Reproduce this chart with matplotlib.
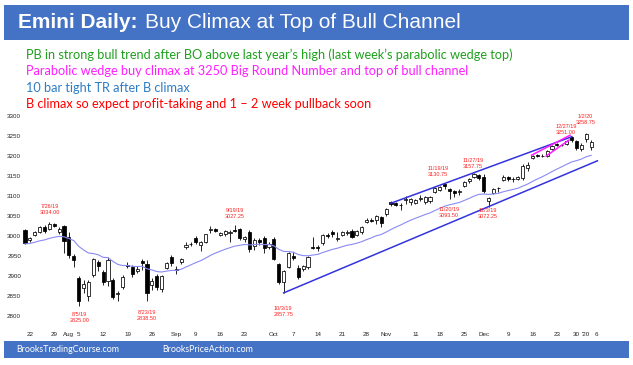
"""Emini daily chart: buy climax at top of bull channel"""
import numpy as np
import pandas as pd
import matplotlib
matplotlib.use("Agg")
import matplotlib.pyplot as plt
from matplotlib.patches import Rectangle

# trading days Jul 19 2019 - Jan 3 2020
holidays = ["2019-09-02", "2019-11-28", "2019-12-25", "2020-01-01"]
dates = pd.bdate_range("2019-07-19", "2020-01-03", freq="C", holidays=holidays)

opens = [3015, 2990, 3003, 3010, 3022, 3018, 3030, 3010, 3025, 2998,
         2950, 2895, 2870, 2850, 2902, 2935, 2910, 2888, 2890, 2856,
         2872, 2928, 2922, 2912, 2937, 2930, 2878, 2900, 2867, 2920,
         2947, 2918, 2935, 2972, 2980, 2995, 2977, 2985, 3015, 3017,
         3002, 3005, 3008, 3015, 3017, 2992, 3010, 2975, 2990, 2995,
         2972, 2992, 2930, 2885, 2922, 2950, 2920, 2918, 2922, 2972,
         2972, 2982, 3002, 3010, 2992, 3002, 3008, 3013, 3003, 3010,
         3035, 3040, 3040, 3047, 3055, 3085, 3082, 3078, 3090, 3085,
         3083, 3092, 3085, 3088, 3110, 3115, 3130, 3118, 3112, 3110,
         3125, 3137, 3148, 3153, 3148, 3088, 3108, 3121, 3140, 3147,
         3142, 3142, 3145, 3170, 3195, 3203, 3200, 3200, 3218, 3230,
         3228, 3230, 3248, 3238, 3218, 3243, 3222]
highs = [3018, 2998, 3013, 3025, 3027, 3034, 3032, 3022, 3028, 3010,
         2955, 2900, 2890, 2890, 2945, 2940, 2915, 2948, 2895, 2862,
         2902, 2935, 2928, 2925, 2942, 2940, 2895, 2905, 2903, 2935,
         2952, 2925, 2945, 2985, 2985, 3000, 2988, 3005, 3025, 3020,
         3010, 3015, 3015, 3027.25, 3020, 3000, 3015, 2995, 2995, 3000,
         2985, 2998, 2932, 2915, 2960, 2960, 2928, 2928, 2950, 2997,
         2978, 3005, 3008, 3015, 3010, 3012, 3015, 3017, 3015, 3025,
         3045, 3045, 3053, 3050, 3070, 3087, 3085, 3082, 3100, 3095,
         3093, 3102, 3100, 3100, 3122, 3125, 3130.75, 3120, 3115, 3117,
         3138, 3145, 3157.75, 3155, 3155, 3098, 3120, 3122, 3152, 3150,
         3148, 3150, 3180, 3185, 3203, 3205, 3205, 3215, 3228, 3232,
         3231, 3240, 3251, 3240, 3232, 3258.75, 3240]
lows = [2980, 2985, 3000, 3007, 3008, 3015, 3022, 3005, 2958, 2945,
        2922, 2825, 2858, 2838, 2898, 2912, 2878, 2875, 2842, 2838,
        2868, 2920, 2898, 2908, 2915, 2838.5, 2865, 2865, 2860, 2918,
        2925, 2905, 2930, 2968, 2975, 2980, 2962, 2982, 3008, 3010,
        3000, 3000, 2985, 3010, 2990, 2985, 2960, 2965, 2978, 2958,
        2968, 2940, 2880, 2857.75, 2920, 2940, 2893, 2912, 2918, 2968,
        2962, 2978, 2995, 2998, 2988, 3000, 3002, 2995, 3000, 3005,
        3032, 3035, 3030, 3023, 3050, 3075, 3075, 3065, 3080, 3078,
        3080, 3088, 3080, 3082, 3108, 3112, 3118, 3093.5, 3098, 3102,
        3122, 3133, 3146, 3140, 3107, 3072.25, 3105, 3110, 3138, 3138,
        3135, 3140, 3140, 3162, 3192, 3198, 3197, 3198, 3215, 3225,
        3224, 3228, 3235, 3215, 3212, 3235, 3215]
closes = [2982, 2994, 3011, 3022, 3012, 3030, 3026, 3018, 2988, 2952,
          2940, 2838, 2880, 2885, 2942, 2925, 2885, 2940, 2848, 2858,
          2898, 2926, 2905, 2918, 2932, 2858, 2888, 2872, 2900, 2932,
          2932, 2914, 2943, 2977, 2980, 2985, 2985, 3004, 3017, 3012,
          3007, 3012, 3010, 3012, 2995, 2998, 2968, 2990, 2985, 2970,
          2980, 2943, 2885, 2912, 2957, 2945, 2898, 2925, 2947, 2970,
          2970, 3002, 3000, 3005, 2996, 3010, 3011, 2998, 3012, 3022,
          3040, 3038, 3050, 3033, 3067, 3080, 3078, 3078, 3092, 3093,
          3090, 3094, 3098, 3097, 3120, 3122, 3124, 3112, 3108, 3112,
          3136, 3143, 3155, 3145, 3113, 3095, 3117, 3120, 3148, 3142,
          3143, 3148, 3175, 3178, 3201, 3200, 3201, 3213, 3225, 3227,
          3228, 3238, 3240, 3220, 3228, 3255, 3235]
ema_start = 2980  # 20 EMA value the day before the first bar

# x tick positions (trading-day index) and labels
tick_idx = [1, 6, 9, 11, 16, 21, 26, 31, 35, 40, 45, 51, 55, 60, 65, 70,
            74, 80, 85, 90, 94, 99, 104, 109, 113, 115, 117]
tick_labels = ["22", "29", "Aug", "5", "12", "19", "26", "Sep", "9", "16", "23",
               "Oct", "7", "14", "21", "28", "Nov", "11", "18", "25", "Dec",
               "9", "16", "23", "30", "'20", "6"]

# swing high / low labels
ann_dates = ["7/26/19", "8/5/19", "8/23/19", "9/19/19", "10/3/19", "11/19/19",
             "11/20/19", "11/27/19", "12/3/19", "12/27/19", "1/2/20"]
ann_values = ["3034.00", "2825.00", "2838.50", "3027.25", "2857.75", "3130.75",
              "3093.50", "3157.75", "3072.25", "3251.00", "3258.75"]

# trend lines drawn on the chart (index, price)
upper_x, upper_y = [75, 112], [3082, 3248]
lower_x, lower_y = [53, 117.3], [2857.75, 3188]
wedge1_x, wedge1_y = [103.8, 111.7], [3202, 3252]
wedge2_x, wedge2_y = [106.8, 111.5], [3200, 3240]

comments = [
    ("PB in strong bull trend after BO above last year\u2019s high (last week\u2019s parabolic wedge top)", "#1fa01f"),
    ("Parabolic wedge buy climax at 3250 Big Round Number and top of bull channel", "#ff1fff"),
    ("10 bar tight TR after B climax", "#2e7dc4"),
    ("B climax so expect profit-taking and 1 \u2013 2 week pullback soon", "#ff0000"),
]

W, H = 633, 365
fig = plt.figure(figsize=(W / 100, H / 100), dpi=100)
fig.patch.set_facecolor("white")

BAR_BLUE = "#4472c4"
# header / footer bars
fig.patches.append(Rectangle((4 / W, 1 - 40 / H), 625 / W, 35 / H, transform=fig.transFigure,
                             facecolor=BAR_BLUE, edgecolor="none", zorder=0))
fig.patches.append(Rectangle((4 / W, 1 - 358 / H), 625 / W, 17 / H, transform=fig.transFigure,
                             facecolor=BAR_BLUE, edgecolor="none", zorder=0))
fig.text(18 / W, 1 - 23 / H, "Emini Daily:", color="white", fontsize=15, fontweight="bold",
         family="Liberation Sans", va="center", ha="left")
fig.text(145 / W, 1 - 23 / H, "Buy Climax at Top of Bull Channel", color="white", fontsize=15,
         family="Liberation Sans", va="center", ha="left")
for k, (txt, col) in enumerate(comments):
    fig.text(26 / W, 1 - (54.5 + 16.6 * k) / H, txt, color=col, fontsize=9.15, family="Lato",
             va="center", ha="left")
fig.text(16 / W, 1 - 349.5 / H, "BrooksTradingCourse.com", color="white", fontsize=6.4,
         family="Lato", va="center", ha="left")
fig.text(162 / W, 1 - 349.5 / H, "BrooksPriceAction.com", color="white", fontsize=6.4,
         family="Lato", va="center", ha="left")

# price axes: 4.88 px per bar, first bar at x=25px; 3300 at y=116px, 2800 at y=316px
x0, x1 = -0.8, 120
y0, y1 = 2775, 3300
left = (25 + x0 * 4.88) / W
right = (25 + x1 * 4.88) / W
ax = fig.add_axes([left, 1 - 326 / H, right - left, 210 / H])
ax.set_xlim(x0, x1)
ax.set_ylim(y0, y1)
for s in ax.spines.values():
    s.set_visible(False)

o = np.array(opens, float)
h = np.array(highs, float)
l = np.array(lows, float)
c = np.array(closes, float)
idx = np.arange(len(dates))

ax.vlines(idx, l, h, color="black", lw=0.6, zorder=2)
up = c >= o
ax.bar(idx[up], (c - o)[up], bottom=o[up], width=0.64, facecolor="white",
       edgecolor="black", lw=0.55, zorder=3)
ax.bar(idx[~up], (c - o)[~up], bottom=o[~up], width=0.64, facecolor="black",
       edgecolor="black", lw=0.55, zorder=3)

ema = pd.Series([ema_start] + closes, dtype=float).ewm(span=20, adjust=False).mean().values[1:]
ax.plot(idx, ema, color="#8a8af5", lw=0.8, zorder=4)

ax.plot(upper_x, upper_y, color="#3333e0", lw=1.1, zorder=4)
ax.plot(lower_x, lower_y, color="#3333e0", lw=1.1, zorder=4)
ax.plot(wedge1_x, wedge1_y, color="#ff1aff", lw=1.1, zorder=5)
ax.plot(wedge2_x, wedge2_y, color="#ff1aff", lw=1.1, zorder=5)

# label positions (index, price) for the swing labels
ann_pos = [(5.1, 3067), (11.1, 2795), (25, 2800), (43, 3055), (52.9, 2810), (84.6, 3162),
           (86.9, 3059), (91.8, 3182), (94.9, 3055), (110.9, 3267), (114.8, 3290)]
for d, v, (px, py) in zip(ann_dates, ann_values, ann_pos):
    ax.text(px, py, d + "\n" + v, color="#ff2020", fontsize=4, family="Liberation Sans",
            ha="center", va="center", linespacing=1.25, zorder=6)

ax.set_yticks(np.arange(2800, 3301, 50))
ax.set_xticks(tick_idx)
ax.set_xticklabels(tick_labels)
ax.tick_params(axis="both", length=0, labelsize=4.5, labelcolor="#222222")
ax.tick_params(axis="y", pad=0)
ax.tick_params(axis="x", pad=4.3)
for lab in ax.get_xticklabels() + ax.get_yticklabels():
    lab.set_family("Liberation Sans")

fig.savefig("out.png", dpi=100)
